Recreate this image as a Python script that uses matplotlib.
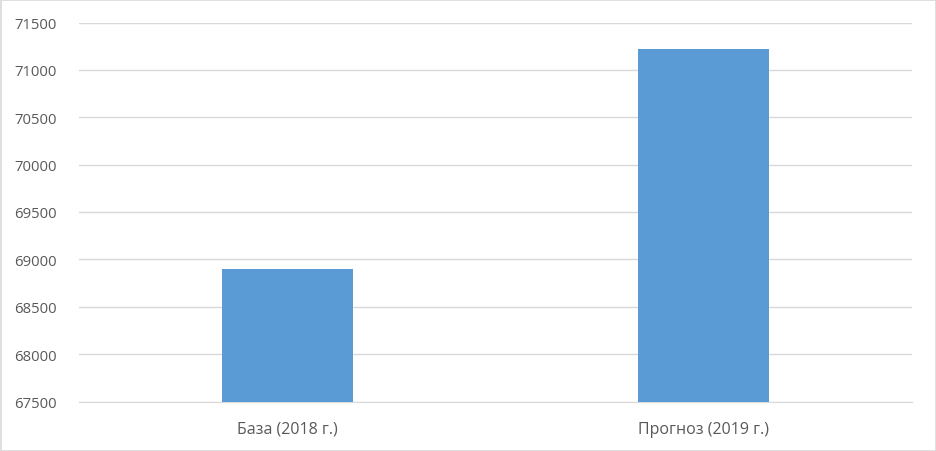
import matplotlib
matplotlib.use("Agg")
import matplotlib.pyplot as plt
from matplotlib.patches import Rectangle

categories = ["База (2018 г.)", "Прогноз (2019 г.)"]
values = [68900, 71225]
yticks = [67500, 68000, 68500, 69000, 69500, 70000, 70500, 71000, 71500]

plt.rcParams['font.family'] = ['Open Sans', 'DejaVu Sans']

fig = plt.figure(figsize=(9.36, 4.52), dpi=100)
ax = fig.add_axes([79/936, 1 - 402.5/452, (912-79)/936, (402.5-23.5)/452])

x = list(range(len(categories)))
ax.bar(x, [v - yticks[0] for v in values], bottom=yticks[0], width=0.315, color="#5b9bd5", zorder=3)
ax.set_xlim(-0.5, 1.5)
ax.set_ylim(yticks[0], yticks[-1])
ax.set_yticks(yticks)
ax.set_yticklabels([str(t) for t in yticks])
ax.set_xticks(x)
ax.set_xticklabels(categories)
ax.grid(axis='y', color="#d9d9d9", linewidth=1, zorder=0)
for s in ax.spines.values():
    s.set_visible(False)
ax.spines['bottom'].set_visible(True)
ax.spines['bottom'].set_color("#d9d9d9")
ax.tick_params(axis='both', length=0, colors="#595959")
ax.tick_params(axis='y', pad=16, labelsize=10.7)
ax.tick_params(axis='x', pad=14, labelsize=11.5)

fig.patches.append(Rectangle((0.5/936, 0.5/452), 1 - 1/936, 1 - 1/452, transform=fig.transFigure,
                             fill=False, edgecolor="#d9d9d9", linewidth=1.2))
fig.savefig("out.png", dpi=100, facecolor="white")
